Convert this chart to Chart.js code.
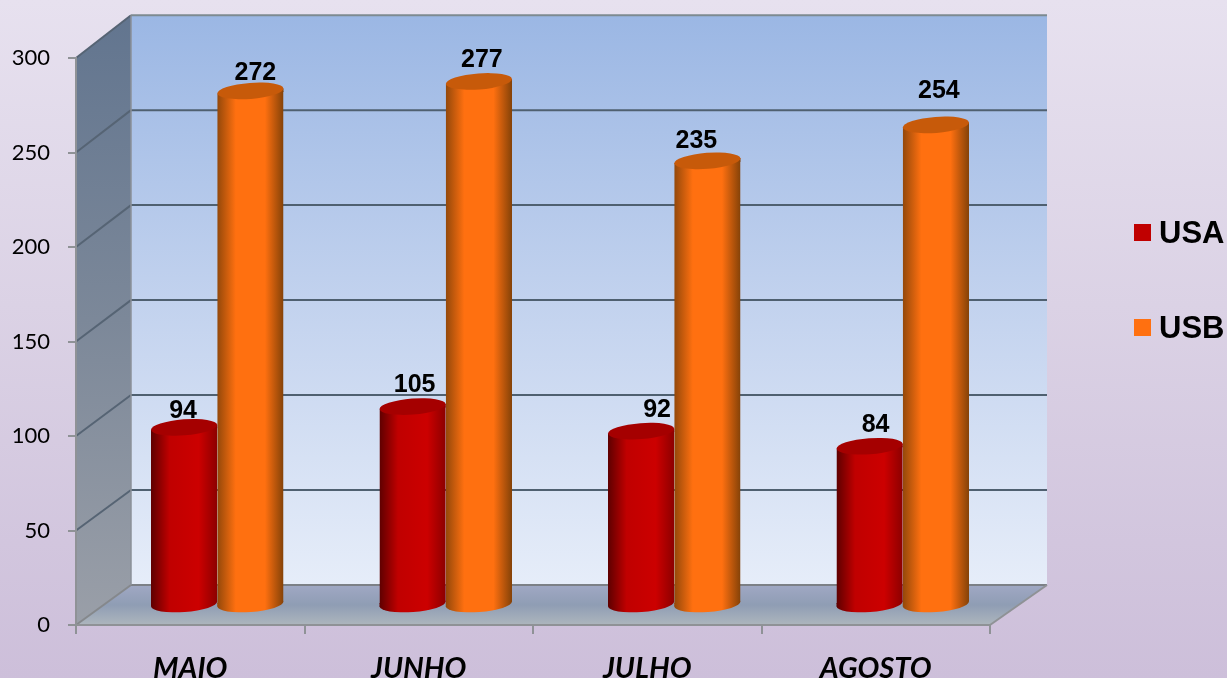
<!DOCTYPE html>
<html>
<head>
<meta charset="utf-8">
<title>USA / USB</title>
<script src="https://cdn.jsdelivr.net/npm/chart.js@4"></script>
<style>
  html, body { margin: 0; padding: 0; width: 1227px; height: 678px; overflow: hidden; }
  body { background: linear-gradient(180deg, #e7e1ef 0%, #dbd2e5 45%, #cdbfda 100%); }
  canvas { display: block; }
</style>
</head>
<body>
<canvas id="chart" width="1227" height="678"></canvas>
<script>
const months = ["MAIO", "JUNHO", "JULHO", "AGOSTO"];
const usaValues = [94, 105, 92, 84];
const usbValues = [272, 277, 235, 254];
const yMax = 300;
const yStep = 50;

// how far the back wall and the bars sit behind the front axes
const wallShift = { x: 55, y: -40 };
const wallExtra = 2;
const wallStretch = 1.005;
const barShift = { x: 27, y: -20 };
const capRadius = 8;
const capTilt = -0.075;
const catShare = 0.58;

// the labels were moved by hand in the original
const usaLabelNudge = [[-1, -16], [2, -21], [16, -21], [6, -21]];
const usbLabelNudge = [[5, -18], [3, -21], [-11, -20], [3, -34]];

const usaShades = ["#5e0000", "#c00000", "#cc0000", "#8c0000"];
const usbShades = ["#93480a", "#ff7010", "#ff7010", "#844208"];
const usaCap = "#a50000";
const usbCap = "#c75a0a";

function barGradient(context, shades, side) {
  if (context.dataIndex === undefined) return shades[1];
  const x = context.chart.scales.x;
  const band = x.width / months.length;
  const w = band * catShare / 2;
  const mid = x.getPixelForValue(context.dataIndex) + side * w / 2;
  // the scale has no size yet on the very first pass
  if (!Number.isFinite(mid) || !Number.isFinite(w)) return shades[1];
  const g = context.chart.ctx.createLinearGradient(mid - w / 2, 0, mid + w / 2, 0);
  g.addColorStop(0, shades[0]);
  g.addColorStop(0.28, shades[1]);
  g.addColorStop(0.72, shades[2]);
  g.addColorStop(1, shades[3]);
  return g;
}

function fillPoly(ctx, pts, fill) {
  ctx.beginPath();
  ctx.moveTo(pts[0][0], pts[0][1]);
  for (let i = 1; i < pts.length; i++) ctx.lineTo(pts[i][0], pts[i][1]);
  ctx.closePath();
  ctx.fillStyle = fill;
  ctx.fill();
}

function strokeLine(ctx, x1, y1, x2, y2, color, width) {
  ctx.beginPath();
  ctx.moveTo(x1, y1);
  ctx.lineTo(x2, y2);
  ctx.strokeStyle = color;
  ctx.lineWidth = width;
  ctx.stroke();
}

function ramp(ctx, y1, y2, stops) {
  const g = ctx.createLinearGradient(0, y1, 0, y2);
  stops.forEach(function (s, i) { g.addColorStop(i / (stops.length - 1), s); });
  return g;
}

/* back wall, side wall, floor and their grid lines */
const wallsPlugin = {
  id: "walls",
  beforeDraw(chart) {
    const ctx = chart.ctx;
    const a = chart.chartArea;
    const dx = wallShift.x;
    const backRight = a.right + dx + wallExtra;
    const backY = function (y) { return a.bottom + wallShift.y + (y - a.bottom) * wallStretch; };
    const backTop = backY(a.top), backBottom = backY(a.bottom);
    ctx.save();
    fillPoly(ctx, [[a.left + dx, backTop], [backRight, backTop], [backRight, backBottom], [a.left + dx, backBottom]],
      ramp(ctx, backTop, backBottom, ["#9bb7e4", "#c2d2ee", "#e6edf9"]));
    fillPoly(ctx, [[a.left, a.top], [a.left + dx, backTop], [a.left + dx, backBottom], [a.left, a.bottom]],
      ramp(ctx, backTop, a.bottom, ["#62758f", "#7c8899", "#9a9fa8"]));
    fillPoly(ctx, [[a.left, a.bottom], [a.left + dx, backBottom], [backRight, backBottom], [a.right, a.bottom]],
      ramp(ctx, backBottom, a.bottom, ["#a0a8c4", "#8f9db4", "#adb6bd"]));

    chart.scales.y.ticks.forEach(function (t) {
      const y = chart.scales.y.getPixelForValue(t.value);
      const isTop = t.value === yMax;
      const isZero = t.value === 0;
      const color = isTop ? "#7d8a90" : (isZero ? "#7c8086" : "#4f6070");
      strokeLine(ctx, a.left + dx, backY(y), backRight, backY(y), color, 2);
      strokeLine(ctx, a.left, y, a.left + dx, backY(y), isZero ? "#85888c" : "#566474", 2);
    });
    strokeLine(ctx, a.left + dx, backTop, a.left + dx, backBottom, "#8b9098", 1.5);
    strokeLine(ctx, a.right, a.bottom, backRight, backBottom, "#8f9296", 2);
    ctx.restore();
  },
  // bars stand in the middle of the floor, so move them as a whole
  beforeDatasetsDraw(chart) {
    chart.ctx.save();
    chart.ctx.translate(barShift.x, barShift.y);
  },
  beforeDatasetDraw(chart, args) {
    // rounded foot under the bar, then keep the square corners of the bars off the tilted ends
    const ctx = chart.ctx;
    const ds = chart.data.datasets[args.index];
    args.meta.data.forEach(function (bar, i) {
      ctx.beginPath();
      ctx.ellipse(bar.x, bar.base, bar.width / 2, capRadius, capTilt, 0, Math.PI * 2);
      ctx.fillStyle = barGradient({ chart: chart, dataIndex: i }, ds.shades, ds.side);
      ctx.fill();
    });
    ctx.save();
    ctx.beginPath();
    args.meta.data.forEach(function (bar) {
      const x0 = bar.x - bar.width / 2, x1 = bar.x + bar.width / 2;
      const s = Math.sin(-capTilt) * bar.width / 2;
      ctx.moveTo(x0, bar.y + s);
      ctx.lineTo(x1, bar.y - s);
      ctx.lineTo(x1, bar.base - s);
      ctx.lineTo(x0, bar.base + s);
      ctx.closePath();
    });
    ctx.clip();
  },
  afterDatasetDraw(chart, args) {
    const ctx = chart.ctx;
    const ds = chart.data.datasets[args.index];
    ctx.restore();
    args.meta.data.forEach(function (bar, i) {
      const x0 = bar.x - bar.width / 2, x1 = bar.x + bar.width / 2;
      const s = Math.sin(-capTilt) * bar.width / 2;
      const g = barGradient({ chart: chart, dataIndex: i }, ds.shades, ds.side);
      // the slivers the tilted ends leave open next to the bar
      fillPoly(ctx, [[bar.x - 1, bar.y + 1], [x1, bar.y + 1], [x1, bar.y - s]], g);
      fillPoly(ctx, [[x0, bar.base - 1], [bar.x + 1, bar.base - 1], [x0, bar.base + s]], g);
      // the top of the cylinder
      ctx.beginPath();
      ctx.ellipse(bar.x, bar.y, bar.width / 2, capRadius, capTilt, 0, Math.PI * 2);
      ctx.fillStyle = ds.capColor;
      ctx.fill();
    });
  },
  afterDatasetsDraw(chart) {
    const ctx = chart.ctx;
    ctx.restore();
    ctx.save();
    ctx.font = "bold 25px 'Liberation Sans'";
    ctx.fillStyle = "#000";
    ctx.textAlign = "center";
    ctx.textBaseline = "middle";
    chart.data.datasets.forEach(function (ds, d) {
      chart.getDatasetMeta(d).data.forEach(function (bar, i) {
        const nudge = ds.labelNudge[i];
        ctx.fillText(ds.data[i], bar.x + barShift.x + nudge[0], bar.y + barShift.y + nudge[1]);
      });
    });
    ctx.restore();
  },
  afterDraw(chart) {
    const ctx = chart.ctx;
    ctx.save();
    ctx.font = "bold 31px 'Liberation Sans'";
    ctx.textBaseline = "middle";
    chart.data.datasets.forEach(function (ds, d) {
      const y = 224 + d * 95;
      ctx.fillStyle = ds.shades[1];
      ctx.fillRect(1134, y, 17, 17);
      ctx.fillStyle = "#000";
      ctx.fillText(ds.label, 1159, y + 10);
    });
    ctx.restore();
  }
};

const myChart = new Chart(document.getElementById("chart"), {
  type: "bar",
  data: {
    labels: months,
    datasets: [
      {
        label: "USA",
        data: usaValues,
        side: -1,
        shades: usaShades,
        capColor: usaCap,
        labelNudge: usaLabelNudge,
        clip: false,
        borderWidth: 0,
        backgroundColor: function (c) { return barGradient(c, usaShades, -1); }
      },
      {
        label: "USB",
        data: usbValues,
        side: 1,
        shades: usbShades,
        capColor: usbCap,
        labelNudge: usbLabelNudge,
        clip: false,
        borderWidth: 0,
        backgroundColor: function (c) { return barGradient(c, usbShades, 1); }
      }
    ]
  },
  options: {
    responsive: false,
    animation: false,
    layout: { padding: { top: 58, right: 237, left: 0, bottom: 0 } },
    categoryPercentage: catShare,
    barPercentage: 1,
    plugins: { legend: { display: false }, tooltip: { enabled: false } },
    scales: {
      x: {
        afterFit: function (s) { s.height = 53; },
        border: { color: "#8f9296", width: 2 },
        grid: { drawOnChartArea: false, color: "#8f9296", lineWidth: 2, tickLength: 9 },
        ticks: {
          color: "#000",
          maxRotation: 0,
          autoSkip: false,
          padding: 17,
          font: { family: "Lato", size: 29, style: "italic", weight: "bold" }
        }
      },
      y: {
        min: 0,
        max: yMax,
        afterFit: function (s) { s.width = 76; },
        border: { color: "#8f9296", width: 2 },
        grid: { drawOnChartArea: false, color: "#8f9296", lineWidth: 2, tickLength: 8 },
        ticks: {
          color: "#000",
          stepSize: yStep,
          padding: 18,
          font: { family: "Lato", size: 22 }
        }
      }
    }
  },
  plugins: [wallsPlugin]
});
</script>
</body>
</html>
